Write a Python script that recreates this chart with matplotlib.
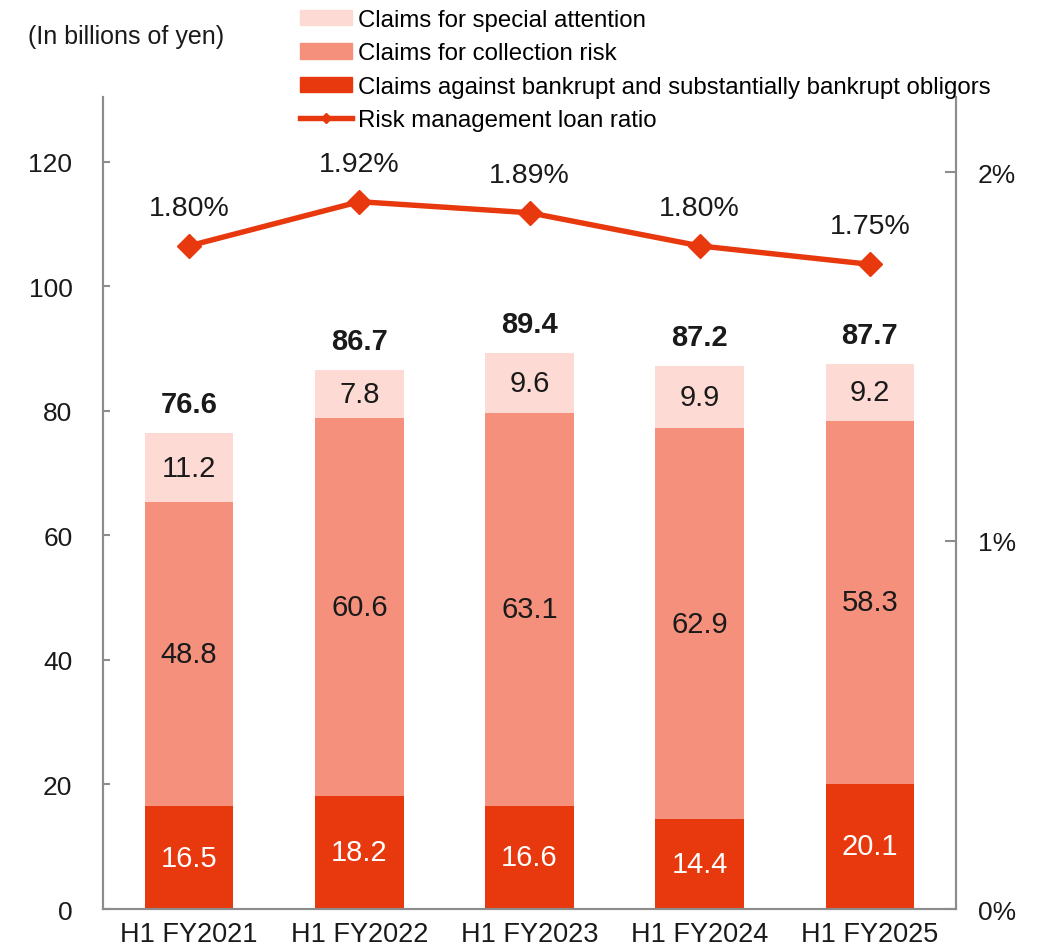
import matplotlib
matplotlib.use('Agg')
import matplotlib.pyplot as plt
import numpy as np
from matplotlib.lines import Line2D
from matplotlib.patches import Patch

plt.rcParams['font.family'] = ['Liberation Sans', 'DejaVu Sans']

# --- data ---
periods = ["H1 FY2021", "H1 FY2022", "H1 FY2023", "H1 FY2024", "H1 FY2025"]
bankrupt = [16.5, 18.2, 16.6, 14.4, 20.1]
collection = [48.8, 60.6, 63.1, 62.9, 58.3]
special = [11.2, 7.8, 9.6, 9.9, 9.2]
totals = [76.6, 86.7, 89.4, 87.2, 87.7]
ratio = [1.80, 1.92, 1.89, 1.80, 1.75]

c_bankrupt = "#E8380D"
c_collection = "#F4907C"
c_special = "#FDDAD4"
c_axis = "#8C8C8C"
c_text = "#1a1a1a"
fs_bar = 21      # labels inside / above the bars
fs_ratio = 20.5  # ratio labels
fs_tick = 19

fig = plt.figure(figsize=(10.46, 9.53), dpi=100)
ax = fig.add_axes([0.0985, 0.0451, 0.8155, 0.852])
ax2 = ax.twinx()

x = np.arange(len(periods))
w = 0.52
b1 = np.array(bankrupt)
b2 = np.array(collection)
b3 = np.array(special)

ax.bar(x, b1, w, color=c_bankrupt, zorder=2)
ax.bar(x, b2, w, bottom=b1, color=c_collection, zorder=2)
ax.bar(x, b3, w, bottom=b1 + b2, color=c_special, zorder=2)

for i in range(len(x)):
    ax.text(x[i], b1[i] / 2, f"{bankrupt[i]:.1f}", ha='center', va='center',
            color='white', fontsize=fs_bar)
    ax.text(x[i], b1[i] + b2[i] / 2, f"{collection[i]:.1f}", ha='center',
            va='center', color=c_text, fontsize=fs_bar)
    ax.text(x[i], b1[i] + b2[i] + b3[i] / 2, f"{special[i]:.1f}", ha='center',
            va='center', color=c_text, fontsize=fs_bar)
    ax.annotate(f"{totals[i]:.1f}", (x[i], b1[i] + b2[i] + b3[i]),
                xytext=(0, 29), textcoords='offset pixels', ha='center',
                va='center', fontsize=fs_bar, fontweight='bold', color=c_text)

ax2.plot(x, ratio, color=c_bankrupt, lw=3.9, marker='D', markersize=12,
         zorder=3)
for i in range(len(x)):
    ax2.annotate(f"{ratio[i]:.2f}%", (x[i], ratio[i]), xytext=(0, 38),
                 textcoords='offset pixels', ha='center', va='center',
                 fontsize=fs_ratio, color=c_text)

ax.set_xlim(-0.506, 4.506)
ax.set_ylim(0, 130.4)
ax2.set_ylim(0, 2.204)
ax.set_yticks([0, 20, 40, 60, 80, 100, 120])
ax2.set_yticks([0, 1, 2])
ax2.set_yticklabels(["0%", "1%", "2%"])
ax.set_xticks(x)
ax.set_xticklabels(periods)

for a in (ax, ax2):
    a.spines['top'].set_visible(False)
    for s in ('left', 'right', 'bottom'):
        a.spines[s].set_color(c_axis)
        a.spines[s].set_linewidth(1.5)
ax.tick_params(axis='y', direction='in', length=5, width=1.5, color=c_axis,
               labelsize=fs_tick, pad=22, labelcolor=c_text)
ax.tick_params(axis='x', length=0, labelsize=19.5, pad=8.6, labelcolor=c_text)
ax2.tick_params(axis='y', direction='in', length=8, width=1.5, color=c_axis,
                labelsize=fs_tick, pad=15.5, labelcolor=c_text)

fig.text(0.027, 0.961, "(In billions of yen)", fontsize=18, va='center',
         color=c_text)

handles = [
    Patch(color=c_special),
    Patch(color=c_collection),
    Patch(color=c_bankrupt),
    Line2D([], [], color=c_bankrupt, lw=3.9, marker='D', markersize=5),
]
labels = ["Claims for special attention", "Claims for collection risk",
          "Claims against bankrupt and substantially bankrupt obligors",
          "Risk management loan ratio"]
fig.legend(handles, labels, loc='upper left', bbox_to_anchor=(0.278, 0.9994),
           frameon=False, fontsize=17.3, handlelength=2.16, handleheight=0.6,
           handletextpad=0.25, labelspacing=0.47, borderaxespad=0)

fig.savefig("out.png", dpi=100)
